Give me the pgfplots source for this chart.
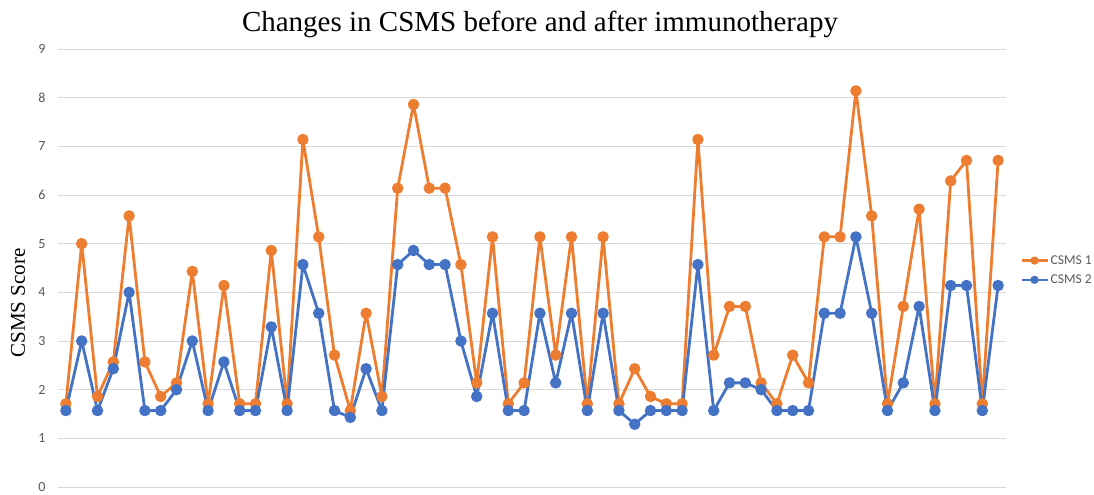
\documentclass[border=0pt]{standalone}
\usepackage{pgfplots}
\pgfplotsset{compat=1.18}
\usepackage{fontspec}
\setmainfont{Liberation Serif}
\newfontfamily\carlito{Carlito}
\definecolor{csmsA}{HTML}{ED7D31}
\definecolor{csmsB}{HTML}{4472C4}
\definecolor{gridc}{HTML}{D9D9D9}
\definecolor{txtg}{HTML}{595959}
\begin{document}
\begin{tikzpicture}
\begin{axis}[
  name=ax, at={(0,0)}, anchor=south west,
  scale only axis, width=948pt, height=438pt,
  xmin=0.5, xmax=60.5, ymin=0, ymax=9,
  ytick={0,1,...,9}, xtick=\empty,
  axis line style={draw=none},
  major tick length=0pt,
  ymajorgrids, grid style={gridc, line width=0.8pt},
  /pgf/number format/assume math mode=true,
  yticklabel style={font=\carlito\fontsize{14}{16}\selectfont, text=txtg, xshift=-9pt},
  clip=false,
  legend style={at={(rel axis cs:1.015,0.495)}, anchor=west, draw=none, fill=none,
    font=\carlito\fontsize{13.5}{15}\selectfont, text=txtg, row sep=5pt, inner sep=0pt},
  legend cell align=left,
  legend image code/.code={\draw[mark repeat=2,mark phase=2,#1,mark size=3pt,line width=2.2pt] plot coordinates {(0pt,0pt) (13pt,0pt) (26pt,0pt)};},
]
\addplot[csmsA, line width=2.8pt, line join=round, mark=*, mark size=4.3pt] coordinates {
(1,1.71)(2,5.00)(3,1.86)(4,2.57)(5,5.57)(6,2.57)(7,1.86)(8,2.14)(9,4.43)(10,1.71)
(11,4.14)(12,1.71)(13,1.71)(14,4.86)(15,1.71)(16,7.14)(17,5.14)(18,2.71)(19,1.57)(20,3.57)
(21,1.86)(22,6.14)(23,7.86)(24,6.14)(25,6.14)(26,4.57)(27,2.14)(28,5.14)(29,1.71)(30,2.14)
(31,5.14)(32,2.71)(33,5.14)(34,1.71)(35,5.14)(36,1.71)(37,2.43)(38,1.86)(39,1.71)(40,1.71)
(41,7.14)(42,2.71)(43,3.71)(44,3.71)(45,2.14)(46,1.71)(47,2.71)(48,2.14)(49,5.14)(50,5.14)
(51,8.14)(52,5.57)(53,1.71)(54,3.71)(55,5.71)(56,1.71)(57,6.29)(58,6.71)(59,1.71)(60,6.71)
};
\addlegendentry{CSMS 1}
\addplot[csmsB, line width=2.8pt, line join=round, mark=*, mark size=4.3pt] coordinates {
(1,1.57)(2,3.00)(3,1.57)(4,2.43)(5,4.00)(6,1.57)(7,1.57)(8,2.00)(9,3.00)(10,1.57)
(11,2.57)(12,1.57)(13,1.57)(14,3.29)(15,1.57)(16,4.57)(17,3.57)(18,1.57)(19,1.43)(20,2.43)
(21,1.57)(22,4.57)(23,4.86)(24,4.57)(25,4.57)(26,3.00)(27,1.86)(28,3.57)(29,1.57)(30,1.57)
(31,3.57)(32,2.14)(33,3.57)(34,1.57)(35,3.57)(36,1.57)(37,1.29)(38,1.57)(39,1.57)(40,1.57)
(41,4.57)(42,1.57)(43,2.14)(44,2.14)(45,2.00)(46,1.57)(47,1.57)(48,1.57)(49,3.57)(50,3.57)
(51,5.14)(52,3.57)(53,1.57)(54,2.14)(55,3.71)(56,1.57)(57,4.14)(58,4.14)(59,1.57)(60,4.14)
};
\addlegendentry{CSMS 2}
\node[anchor=base, font=\fontsize{29}{34}\selectfont] at (rel axis cs:0.5,1) [yshift=17pt, xshift=8pt] {Changes in CSMS before and after immunotherapy};
\node[xshift=-40pt, rotate=90, anchor=center, font=\fontsize{21}{25}\selectfont] at (rel axis cs:0,0.42) {CSMS Score};
\end{axis}
\pgfresetboundingbox
\path ([shift={(-58pt,-7pt)}]ax.south west) rectangle ([shift={(88pt,49pt)}]ax.north east);
\end{tikzpicture}
\end{document}
